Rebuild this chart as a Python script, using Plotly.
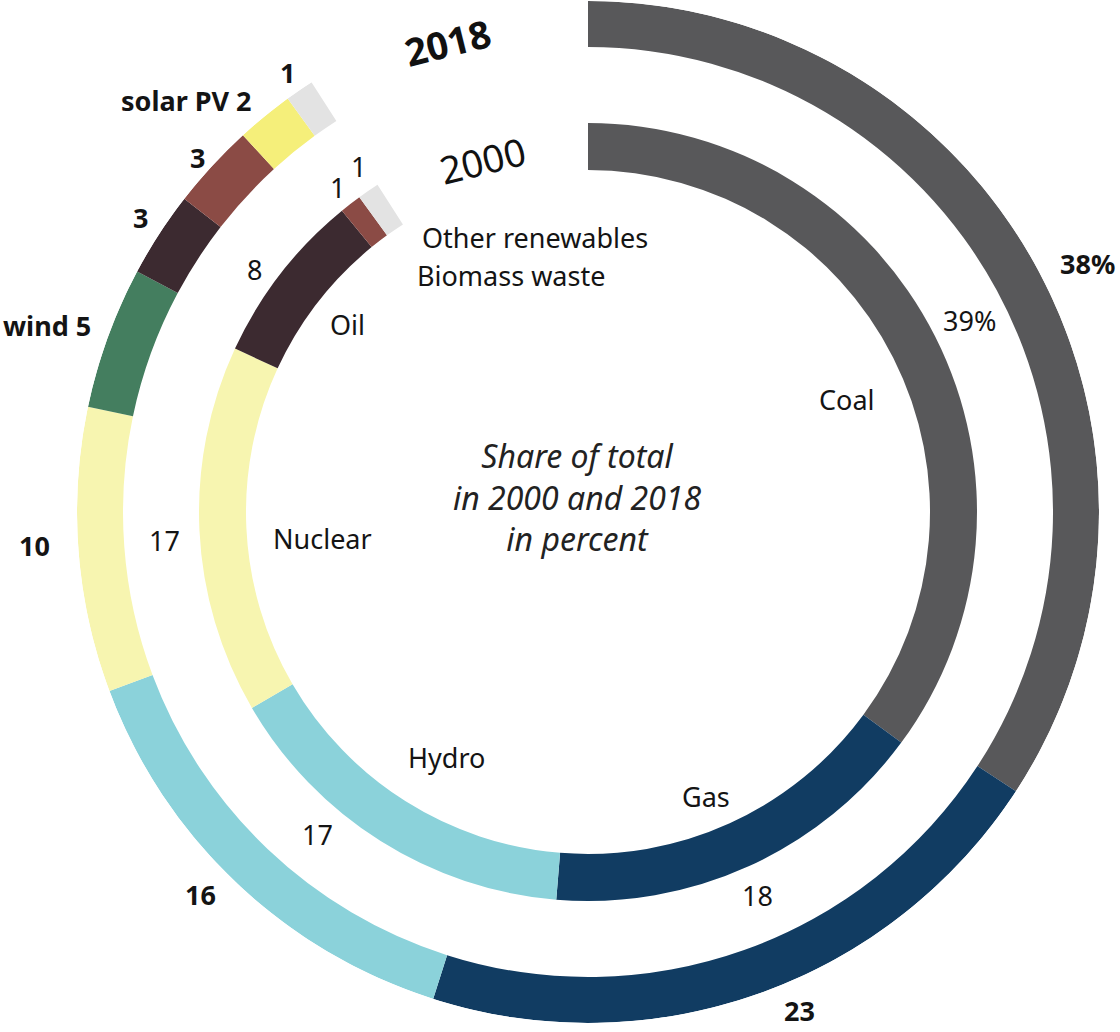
import math
import plotly.graph_objects as go

# ---- data ----
cats_2018 = ["Coal", "Gas", "Hydro", "Nuclear", "Wind", "Oil", "Biomass waste", "Solar PV", "Other renewables"]
vals_2018 = [38, 23, 16, 10, 5, 3, 3, 2, 1]
labels_2018 = ["38%", "23", "16", "10", "wind 5", "3", "3", "solar PV 2", "1"]

cats_2000 = ["Coal", "Gas", "Hydro", "Nuclear", "Oil", "Biomass waste", "Other renewables"]
vals_2000 = [39, 18, 17, 17, 8, 1, 1]
labels_2000 = ["39%", "18", "17", "17", "8", "1", "1"]
cat_labels_2000 = ["Coal", "Gas", "Hydro", "Nuclear", "Oil", "Biomass waste", "Other renewables"]

colors = {
    "Coal": "#58585a", "Gas": "#113c62", "Hydro": "#8bd2da", "Nuclear": "#f7f5b0",
    "Wind": "#447e5f", "Oil": "#3c2a30", "Biomass waste": "#8b4b45",
    "Solar PV": "#f5ef7a", "Other renewables": "#e3e3e3",
}

DEG_PER_PCT = 360 * 0.9 / 100  # 100 % spans 90 % of the circle

W, H = 1120, 1032
DOM_X = (76, 1100)   # polar domain in px
DOM_Y = (1, 1023)
R_MAX = 511          # radial range
R_OUT = (465, 511)
R_IN = (342, 389)

CX = (DOM_X[0] + DOM_X[1]) / 2
CY = (DOM_Y[0] + DOM_Y[1]) / 2
PX_PER_R = min(DOM_X[1] - DOM_X[0], DOM_Y[1] - DOM_Y[0]) / 2 / R_MAX


def segments(vals):
    mids, widths = [], []
    c = 0
    for v in vals:
        mids.append((c + v / 2) * DEG_PER_PCT)
        widths.append(v * DEG_PER_PCT)
        c += v
    return mids, widths


def to_paper(theta_deg, r):
    t = math.radians(theta_deg)
    x = CX + r * PX_PER_R * math.sin(t)
    y = CY - r * PX_PER_R * math.cos(t)
    return x / W, 1 - y / H


fig = go.Figure()
for cats, vals, (r0, r1) in [(cats_2018, vals_2018, R_OUT), (cats_2000, vals_2000, R_IN)]:
    m, w = segments(vals)
    fig.add_trace(go.Barpolar(
        r=[r1 - r0] * len(vals), base=[r0] * len(vals), theta=m, width=w,
        marker=dict(color=[colors[c] for c in cats], line=dict(width=0)),
        hoverinfo="skip", showlegend=False,
    ))

annotations = []
FONT = "Noto Sans"


def add_label(text, theta, r, size, anchor="center", bold=False):
    x, y = to_paper(theta, r)
    annotations.append(dict(
        text=("<b>%s</b>" % text) if bold else text, x=x, y=y, xref="paper", yref="paper",
        xanchor=anchor, yanchor="middle", showarrow=False,
        font=dict(family=FONT, size=size, color="#141414"),
    ))


# outer ring value labels (2018): (angle offset, radius, anchor)
m18, _ = segments(vals_2018)
out_place = [(2.0, 558, "center"), (-3.4, 542, "center"), (1.8, 545, "center"), (0.9, 554, "center"),
             (0.7, 529, "right"), (0.4, 536, "center"), (-0.4, 527, "center"), (0.2, 530, "right"),
             (0.0, 533, "center")]
for lab, mid, (dt, r, anc) in zip(labels_2018, m18, out_place):
    add_label(lab, mid + dt, r, 27, anc, bold=True)

# inner ring value labels (2000)
m00, _ = segments(vals_2000)
in_place = [(0.1, 427), (0.6, 419), (7.7, 421), (-1.1, 424), (-1.8, 412), (0.0, 410), (0.8, 415)]
for lab, mid, (dt, r) in zip(labels_2000, m00, in_place):
    add_label(lab, mid + dt, r, 27)

# category names inside the inner ring
cat_place = [(3.4, 282, "center"), (2.0, 308, "center"), (-2.3, 283, "center"), (-2.9, 267, "center"),
             (0.2, 305, "center"), (1.4, 293, "left"), (3.0, 322, "left")]
for lab, mid, (dt, r, anc) in zip(cat_labels_2000, m00, cat_place):
    add_label(lab, mid + dt, r, 27, anc)

annotations += [
    dict(text="<b>2018</b>", x=447 / W, y=1 - 42 / H, xref="paper", yref="paper",
         xanchor="center", yanchor="middle", showarrow=False, textangle=-14,
         font=dict(family=FONT, size=38, color="#111111")),
    dict(text="2000", x=482 / W, y=1 - 160 / H, xref="paper", yref="paper",
         xanchor="center", yanchor="middle", showarrow=False, textangle=-14,
         font=dict(family=FONT, size=38, color="#111111")),
    dict(text="Share of total<br>in 2000 and 2018<br>in percent", x=577 / W, y=1 - 497 / H,
         xref="paper", yref="paper", xanchor="center", yanchor="middle", showarrow=False, align="center",
         font=dict(family=FONT, size=32, color="#222222", style="italic")),
]

fig.update_layout(
    width=W, height=H,
    margin=dict(l=0, r=0, t=0, b=0),
    paper_bgcolor="white", plot_bgcolor="white",
    polar=dict(
        domain=dict(x=[DOM_X[0] / W, DOM_X[1] / W], y=[1 - DOM_Y[1] / H, 1 - DOM_Y[0] / H]),
        bgcolor="white", hole=0,
        radialaxis=dict(range=[0, R_MAX], visible=False),
        angularaxis=dict(direction="clockwise", rotation=90, visible=False),
        barmode="overlay",
    ),
    annotations=annotations,
)

fig.write_html("out.html")
